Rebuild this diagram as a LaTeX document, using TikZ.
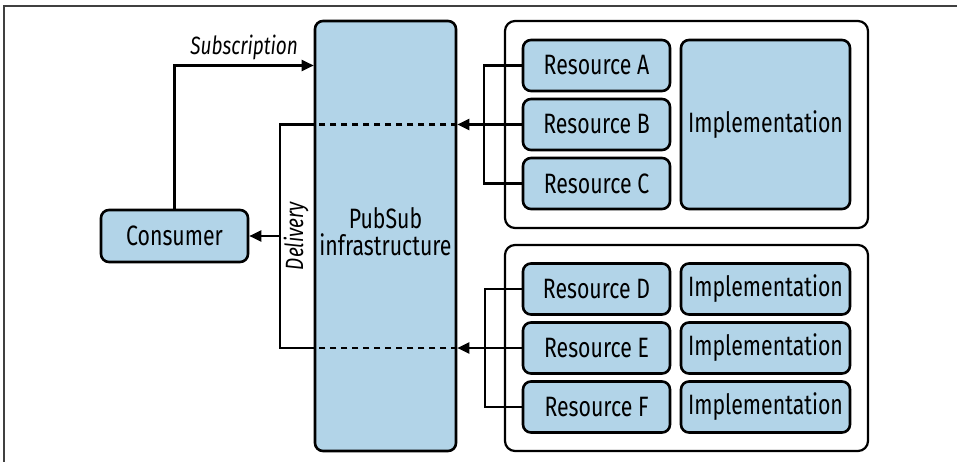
\documentclass[tikz,border=0pt]{standalone}
\usepackage{fontspec}
\setmainfont{Fira Sans}[FakeStretch=0.76]
\usetikzlibrary{arrows.meta,positioning,calc}
\definecolor{boxblue}{RGB}{178,212,232}
\tikzset{
  bx/.style={draw=black, fill=boxblue, line width=2.6pt, rounded corners=8pt, inner sep=0pt,
    font=\fontsize{28}{31}\selectfont, align=center},
  grp/.style={draw=black, fill=white, line width=2.2pt, rounded corners=10pt, inner sep=0pt},
  con/.style={line width=2.4pt, draw=black},
  arr/.style={con, -{Triangle[length=12pt,width=11pt]}},
  dsh/.style={con, dash pattern=on 6pt off 5pt},
  lab/.style={font=\itshape\fontsize{25}{28}\selectfont, inner sep=0pt}
}
\begin{document}
\begin{tikzpicture}[x=1pt,y=-1pt]
\useasboundingbox (0,0) rectangle (957,462);
\draw[line width=1.5pt, black!75] (4,462) -- (4,6) -- (957,6);
% groups
\node[grp, minimum width=363pt, minimum height=207pt] (g1) at (686.5,124.5) {};
\node[grp, minimum width=363pt, minimum height=206pt] (g2) at (686.5,348) {};
% main boxes
\node[bx, minimum width=141pt, minimum height=430pt] (pubsub) at (385.5,236) {};
\node[font=\fontsize{28}{31}\selectfont, align=center, inner sep=0pt] (pstext) at (385.5,232) {PubSub\\[-4pt]infrastructure};
\node[bx, minimum width=147pt, minimum height=52pt] (cons) at (174.5,236) {Consumer};
% resources
\node[bx, minimum width=147pt, minimum height=51pt] (rA) at (596.5,65.5) {Resource A};
\node[bx, minimum width=147pt, minimum height=51pt] (rB) at (596.5,124.5) {Resource B};
\node[bx, minimum width=147pt, minimum height=51pt] (rC) at (596.5,183.5) {Resource C};
\node[bx, minimum width=169pt, minimum height=169pt] (iT) at (765.5,124.5) {Implementation};
\node[bx, minimum width=147pt, minimum height=51pt] (rD) at (596.5,289) {Resource D};
\node[bx, minimum width=147pt, minimum height=51pt] (rE) at (596.5,348) {Resource E};
\node[bx, minimum width=147pt, minimum height=51pt] (rF) at (596.5,407) {Resource F};
\node[bx, minimum width=169pt, minimum height=51pt] (iD) at (765.5,289) {Implementation};
\node[bx, minimum width=169pt, minimum height=51pt] (iE) at (765.5,348) {Implementation};
\node[bx, minimum width=169pt, minimum height=51pt] (iF) at (765.5,407) {Implementation};
% subscription
\draw[arr] (cons.north) |- (pubsub.west |- rA.west) node[lab, pos=0.75, above=4pt] {Subscription};
% brackets
\draw[con] (rA.west) -- ++(-38,0) |- (rC.west);
\draw[con] (rD.west) -- ++(-37,0) |- (rF.west);
\draw[arr] (rB.west) -- (pubsub.east |- rB.west);
\draw[arr] (rE.west) -- (pubsub.east |- rE.west);
% dashed through pubsub
\draw[dsh] (pubsub.east |- rB.west) -- (pubsub.west |- rB.west);
\draw[dsh] (pubsub.east |- rE.west) -- (pubsub.west |- rE.west);
% delivery
\coordinate (d1) at (280,124.5);
\coordinate (d2) at (280,348);
\draw[con] (pubsub.west |- rB.west) -- (d1) -- (d2) -- (pubsub.west |- rE.west);
\draw[arr] (d1 |- cons.east) -- (cons.east);
\node[lab, rotate=90] (dl) at (296,236) {Delivery};
\end{tikzpicture}
\end{document}
